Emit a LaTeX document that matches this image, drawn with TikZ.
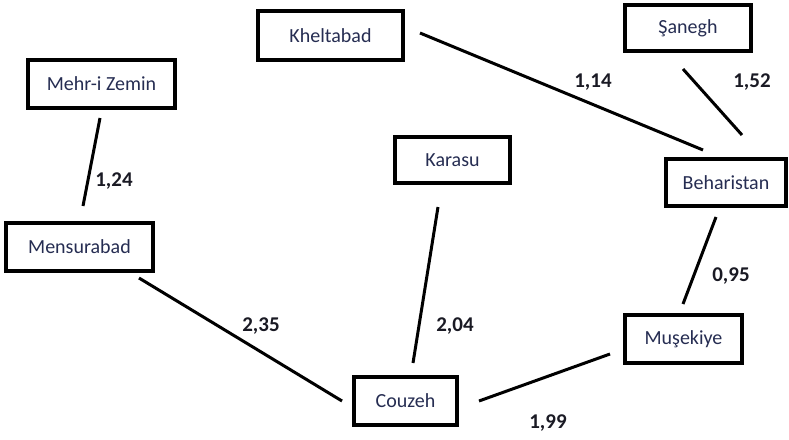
\documentclass[tikz,border=0pt]{standalone}
\usepackage{fontspec}
\setmainfont{Carlito}
\definecolor{txtblue}{HTML}{262D52}
\definecolor{numcol}{HTML}{1A1A24}
\begin{document}
\begin{tikzpicture}[x=1pt,y=-1pt,
  place/.style={draw=black,line width=4pt,fill=white,inner sep=0pt,
    text=txtblue,font=\fontsize{20}{23}\selectfont},
  road/.style={line width=3pt,line cap=butt},
  dist/.style={text=numcol,font=\bfseries\fontsize{21}{25}\selectfont,inner sep=0pt}]
\useasboundingbox (0,0) rectangle (789,439);
% places
\node[place,minimum width=147pt,minimum height=48pt] (mehr) at (101.5,84) {Mehr-i Zemin};
\node[place,minimum width=145pt,minimum height=49pt] (khel) at (330.5,35.5) {Kheltabad};
\node[place,minimum width=126pt,minimum height=46pt] (sane) at (688,28) {Şanegh};
\node[place,minimum width=115pt,minimum height=46pt] (kara) at (452.5,160) {Karasu};
\node[place,minimum width=120pt,minimum height=47pt] (beha) at (726,182.5) {Beharistan};
\node[place,minimum width=147pt,minimum height=48pt] (mens) at (79.5,247) {Mensurabad};
\node[place,minimum width=103pt,minimum height=48pt] (couz) at (405.5,401) {Couzeh};
\node[place,minimum width=117pt,minimum height=48pt] (muse) at (683.5,339) {Muşekiye};
% road end points
\coordinate (mehrS) at (100,118);
\coordinate (mensN) at (83,206);
\coordinate (khelE) at (420,33);
\coordinate (behaW) at (703,150);
\coordinate (saneS) at (683,69);
\coordinate (behaN) at (742,135);
\coordinate (mensS) at (139,278);
\coordinate (couzW) at (342,401);
\coordinate (karaS) at (438,207);
\coordinate (couzN) at (413,363);
\coordinate (behaS) at (716,217);
\coordinate (museN) at (683,304);
\coordinate (couzE) at (479,401);
\coordinate (museW) at (610,354);
% roads
\draw[road] (mehrS) -- (mensN);
\draw[road] (khelE) -- (behaW);
\draw[road] (saneS) -- (behaN);
\draw[road] (mensS) -- (couzW);
\draw[road] (karaS) -- (couzN);
\draw[road] (behaS) -- (museN);
\draw[road] (couzE) -- (museW);
% distances
\node[dist] (d1) at (114,181) {1,24};
\node[dist] (d2) at (593,82) {1,14};
\node[dist] (d3) at (752,82) {1,52};
\node[dist] (d4) at (261,326) {2,35};
\node[dist] (d5) at (455,326) {2,04};
\node[dist] (d6) at (731,276) {0,95};
\node[dist] (d7) at (548,423) {1,99};
\end{tikzpicture}
\end{document}
